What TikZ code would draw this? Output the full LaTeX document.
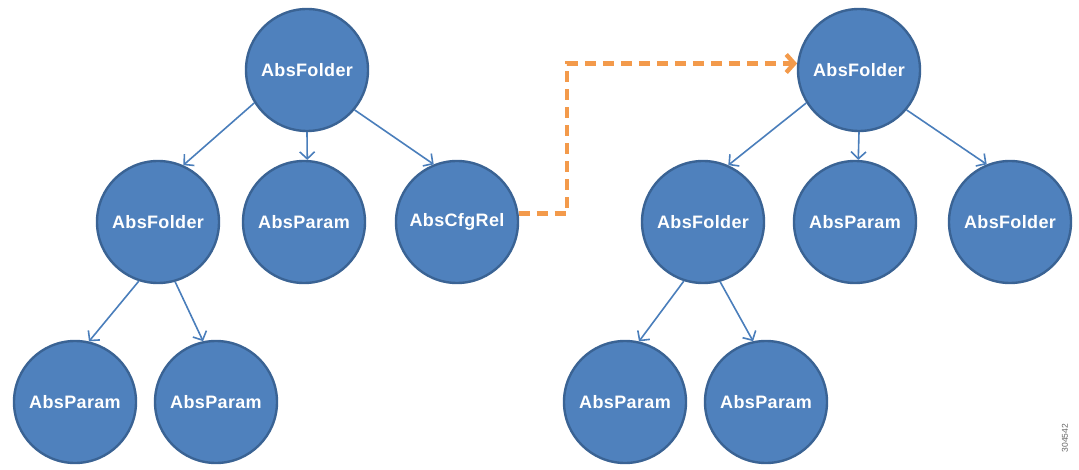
\documentclass[tikz,border=0pt]{standalone}
\usepackage{fontspec}
\setmainfont{Liberation Sans}
\usetikzlibrary{shapes,arrows.meta}
\definecolor{absfill}{HTML}{4F81BD}
\definecolor{absline}{HTML}{3A6394}
\definecolor{absarrow}{HTML}{4A7EBB}
\definecolor{relorange}{HTML}{F39A4B}

\begin{document}
\begin{tikzpicture}[x=1pt,y=-1pt]
\tikzstyle{abs}=[
	circle,
	minimum size=122pt,
	inner sep=0pt,
	fill=absfill,
	draw=absline,
	line width=2.4pt,
	text=white,
	font=\fontsize{18}{20}\selectfont\bfseries\addfontfeature{LetterSpace=2} ]
\tikzstyle{link}=[absarrow, line width=1.6pt, -{Straight Barb[length=7pt,width=15pt]}]
\tikzstyle{rel}=[relorange, line width=4.4pt, dash pattern=on 11pt off 7pt,
	-{Straight Barb[length=8pt,width=18pt]}]
\useasboundingbox (0,0) rectangle (1079,470);
% left tree
\node[abs] (rootL) at (307,70) {AbsFolder};
\node[abs] (folderL) at (158,222) {AbsFolder};
\node[abs] (paramL) at (304,222) {AbsParam};
\node[abs] (cfgL) at (457,222) {AbsCfgRel};
\node[abs] (leafLa) at (75,402) {AbsParam};
\node[abs] (leafLb) at (216,402) {AbsParam};
% right tree
\node[abs] (rootR) at (859,70) {AbsFolder};
\node[abs] (folderR) at (703,222) {AbsFolder};
\node[abs] (paramR) at (855,222) {AbsParam};
\node[abs] (folderRb) at (1010,222) {AbsFolder};
\node[abs] (leafRa) at (625,402) {AbsParam};
\node[abs] (leafRb) at (766,402) {AbsParam};
\draw[link] (rootL.-148) -- (folderL.66);
\draw[link] (rootL.-90) -- (paramL.87);
\draw[link] (rootL.-40) -- (cfgL.112);
\draw[link] (folderL.-108) -- (leafLa.77);
\draw[link] (folderL.-74) -- (leafLb.102);
\draw[link] (rootR.-148) -- (folderR.66);
\draw[link] (rootR.-90) -- (paramR.87);
\draw[link] (rootR.-40) -- (folderRb.112);
\draw[link] (folderR.-108) -- (leafRa.77);
\draw[link] (folderR.-74) -- (leafRb.102);
% config relation
\coordinate (bend) at (567,0);
\draw[rel] (cfgL.8) -- (cfgL.8 -| bend) |- (rootR.174);
\node[rotate=90, text=black!60, font=\fontsize{8.5}{9}\selectfont] (figid) at (1065,438) {304542};
\end{tikzpicture}
\end{document}
